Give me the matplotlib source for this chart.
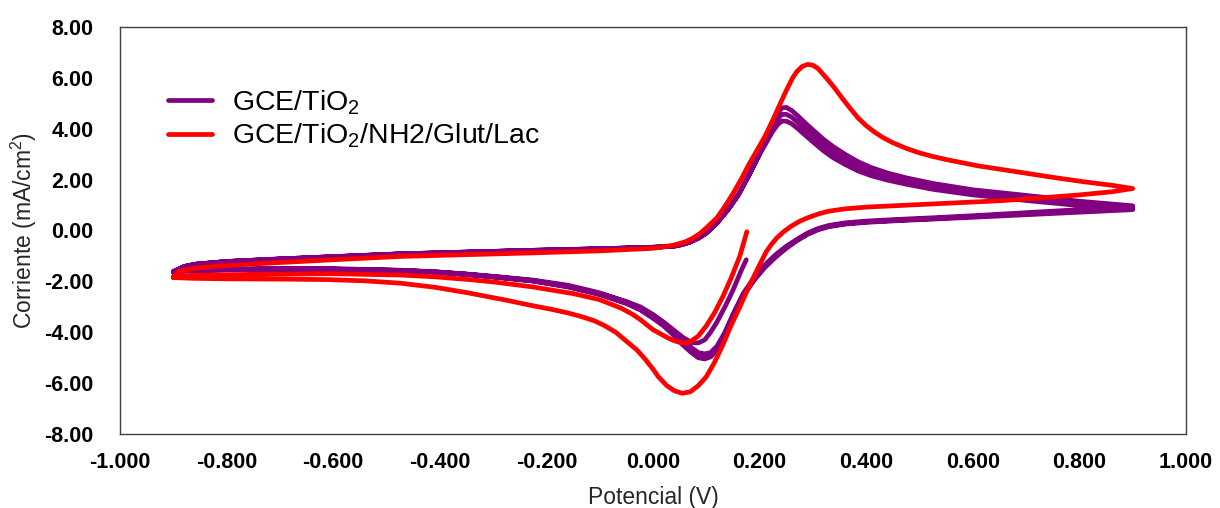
import numpy as np
import matplotlib
matplotlib.use("Agg")
import matplotlib.pyplot as plt
from matplotlib.ticker import FuncFormatter

plt.rcParams['font.family'] = ['Liberation Sans', 'DejaVu Sans']
plt.rcParams['mathtext.fontset'] = 'custom'
plt.rcParams['mathtext.rm'] = 'Liberation Sans'
plt.rcParams['mathtext.it'] = 'Liberation Sans:italic'
plt.rcParams['mathtext.bf'] = 'Liberation Sans:bold'

# ---------------- data (potential in V, current density in mA/cm2) ----------------
series_labels = ["GCE/TiO$_2$", "GCE/TiO$_2$/NH2/Glut/Lac"]
series_colors = ["#800080", "#FF0000"]

x_ticks = [-1.0, -0.8, -0.6, -0.4, -0.2, 0.0, 0.2, 0.4, 0.6, 0.8, 1.0]
y_ticks = [-8, -6, -4, -2, 0, 2, 4, 6, 8]

# --- GCE/TiO2 (purple) ---
# first cathodic sweep from the starting potential
tio2_first_E = [0.175, 0.165, 0.150, 0.135, 0.120, 0.108, 0.097, 0.085, 0.072, 0.056, 0.038, 0.020,
                0.000, -0.024, -0.050, -0.100, -0.160, -0.225, -0.290, -0.350, -0.410, -0.475,
                -0.600, -0.737, -0.863, -0.900]
tio2_first_I = [-1.15, -1.60, -2.35, -3.00, -3.60, -4.00, -4.30, -4.42, -4.40, -4.20, -3.90, -3.60,
                -3.30, -3.00, -2.80, -2.45, -2.15, -1.95, -1.82, -1.71, -1.62, -1.56,
                -1.50, -1.50, -1.55, -1.60]

# anodic sweeps (-0.9 -> 0.9), three cycles
tio2_an_E = [-0.900, -0.880, -0.860, -0.800, -0.700, -0.600, -0.475, -0.350, -0.225, -0.100, 0.000,
             0.038, 0.055, 0.070, 0.085, 0.100, 0.120, 0.140, 0.160, 0.178, 0.196, 0.211, 0.224,
             0.234, 0.242, 0.250, 0.260, 0.272, 0.287, 0.303, 0.320, 0.338, 0.360, 0.385, 0.410,
             0.440, 0.475, 0.525, 0.600, 0.700, 0.800, 0.900]
tio2_an_base = [-1.62, -1.42, -1.33, -1.22, -1.12, -1.03, -0.92, -0.85, -0.78, -0.72, -0.66,
                -0.62, -0.55, -0.45, -0.30, -0.10, 0.30, 0.80, 1.40, 2.10, 2.85]
tio2_an1_I = tio2_an_base + [3.60, 4.20, 4.62, 4.82, 4.84, 4.72, 4.50, 4.20, 3.90, 3.58, 3.30,
                             3.00, 2.70, 2.47, 2.26, 2.07, 1.85, 1.60, 1.38, 1.15, 0.97]
tio2_an2_I = tio2_an_base + [3.50, 4.05, 4.40, 4.56, 4.57, 4.46, 4.25, 3.96, 3.66, 3.35, 3.08,
                             2.80, 2.52, 2.31, 2.12, 1.95, 1.74, 1.50, 1.28, 1.06, 0.90]
tio2_an3_I = tio2_an_base + [3.40, 3.88, 4.17, 4.30, 4.30, 4.20, 4.00, 3.72, 3.43, 3.13, 2.86,
                             2.60, 2.34, 2.15, 1.98, 1.82, 1.62, 1.40, 1.18, 0.98, 0.82]

# cathodic sweeps (0.9 -> -0.9), three cycles
tio2_ca_E = [0.900, 0.800, 0.700, 0.600, 0.525, 0.463, 0.400, 0.360, 0.330, 0.310, 0.290, 0.270,
             0.250, 0.230, 0.210, 0.190, 0.170, 0.150, 0.135, 0.120, 0.108, 0.097, 0.085, 0.072,
             0.056, 0.038, 0.020, 0.000, -0.024, -0.050, -0.100, -0.160, -0.225, -0.290, -0.350,
             -0.410, -0.475, -0.600, -0.737, -0.863, -0.900]
tio2_ca1_I = [0.97, 0.82, 0.70, 0.58, 0.50, 0.44, 0.37, 0.30, 0.20, 0.08, -0.10, -0.35,
              -0.62, -0.95, -1.35, -1.85, -2.45, -3.30, -4.00, -4.55, -4.80, -4.85, -4.80, -4.60,
              -4.30, -3.95, -3.65, -3.35, -3.05, -2.80, -2.48, -2.18, -1.97, -1.83, -1.72,
              -1.63, -1.57, -1.52, -1.52, -1.56, -1.62]
tio2_ca2_I = [0.90, 0.77, 0.66, 0.55, 0.47, 0.41, 0.34, 0.27, 0.17, 0.05, -0.13, -0.38,
              -0.66, -1.00, -1.40, -1.90, -2.50, -3.35, -4.05, -4.65, -4.92, -5.00, -4.95, -4.75,
              -4.45, -4.05, -3.72, -3.42, -3.10, -2.85, -2.50, -2.20, -1.98, -1.84, -1.72,
              -1.63, -1.57, -1.52, -1.52, -1.56, -1.62]
tio2_ca3_I = [0.82, 0.72, 0.62, 0.52, 0.45, 0.39, 0.32, 0.25, 0.15, 0.03, -0.15, -0.40,
              -0.70, -1.05, -1.45, -1.95, -2.55, -3.40, -4.10, -4.70, -4.97, -5.05, -5.00, -4.80,
              -4.50, -4.10, -3.75, -3.45, -3.12, -2.87, -2.52, -2.22, -1.99, -1.85, -1.73,
              -1.64, -1.58, -1.53, -1.53, -1.57, -1.63]

# --- GCE/TiO2/NH2/Glut/Lac (red) ---
lac_first_E = [0.176, 0.163, 0.147, 0.131, 0.115, 0.100, 0.085, 0.070, 0.060, 0.050, 0.038, 0.026,
               0.000, -0.024, -0.038, -0.060, -0.100, -0.150, -0.225, -0.300, -0.350, -0.410,
               -0.475, -0.600, -0.737, -0.863, -0.900]
lac_first_I = [-0.05, -1.00, -1.85, -2.60, -3.25, -3.75, -4.15, -4.37, -4.42, -4.40, -4.32, -4.20,
               -3.90, -3.50, -3.30, -3.05, -2.72, -2.48, -2.22, -2.02, -1.92, -1.82,
               -1.75, -1.70, -1.72, -1.76, -1.80]

lac_an_E = [-0.900, -0.890, -0.875, -0.850, -0.800, -0.737, -0.600, -0.475, -0.350, -0.225, -0.100,
            0.000, 0.038, 0.060, 0.075, 0.088, 0.100, 0.120, 0.135, 0.150, 0.165, 0.180, 0.195,
            0.210, 0.225, 0.240, 0.250, 0.262, 0.270, 0.280, 0.290, 0.300, 0.310, 0.320, 0.330,
            0.340, 0.355, 0.370, 0.385, 0.400, 0.415, 0.430, 0.450, 0.475, 0.500, 0.525, 0.550,
            0.576, 0.610, 0.651, 0.700, 0.750, 0.807, 0.860, 0.900]
lac_an_I = [-1.85, -1.62, -1.54, -1.46, -1.38, -1.30, -1.15, -1.02, -0.95, -0.88, -0.80,
            -0.70, -0.58, -0.45, -0.30, -0.12, 0.10, 0.50, 0.95, 1.45, 2.00, 2.60, 3.15,
            3.70, 4.35, 5.05, 5.50, 6.00, 6.25, 6.45, 6.53, 6.50, 6.36, 6.12, 5.88,
            5.62, 5.20, 4.80, 4.42, 4.12, 3.88, 3.67, 3.45, 3.23, 3.05, 2.91, 2.79,
            2.68, 2.54, 2.41, 2.25, 2.09, 1.92, 1.78, 1.65]

lac_ca_E = [0.900, 0.860, 0.800, 0.720, 0.651, 0.580, 0.525, 0.460, 0.400, 0.360, 0.330, 0.310,
            0.290, 0.275, 0.260, 0.245, 0.232, 0.222, 0.212, 0.200, 0.180, 0.163, 0.145, 0.131,
            0.115, 0.100, 0.085, 0.070, 0.055, 0.040, 0.026, 0.010, 0.000, -0.015, -0.030,
            -0.050, -0.070, -0.090, -0.110, -0.135, -0.160, -0.190, -0.225, -0.280, -0.350,
            -0.410, -0.475, -0.540, -0.610, -0.700, -0.800, -0.863, -0.900]
lac_ca_I = [1.65, 1.52, 1.40, 1.27, 1.17, 1.10, 1.05, 0.98, 0.92, 0.85, 0.76, 0.65,
            0.50, 0.36, 0.18, -0.05, -0.30, -0.55, -0.85, -1.35, -2.20, -3.00, -3.80, -4.50,
            -5.20, -5.75, -6.10, -6.34, -6.40, -6.30, -6.10, -5.75, -5.45, -5.05, -4.70,
            -4.35, -4.00, -3.75, -3.55, -3.38, -3.24, -3.10, -2.96, -2.72, -2.44,
            -2.23, -2.07, -1.98, -1.93, -1.91, -1.90, -1.88, -1.85]

# ---------------- plotting ----------------
fig = plt.figure(figsize=(12.2, 5.08), dpi=100)
ax = fig.add_axes([120 / 1220, 1 - 434 / 508, 1066 / 1220, 407 / 508])

tio2_E = (tio2_first_E + tio2_an_E + tio2_ca_E + tio2_an_E + tio2_ca_E + tio2_an_E + tio2_ca_E)
tio2_I = (tio2_first_I + tio2_an1_I + tio2_ca1_I + tio2_an2_I + tio2_ca2_I + tio2_an3_I + tio2_ca3_I)
lac_E = lac_first_E + lac_an_E + lac_ca_E
lac_I = lac_first_I + lac_an_I + lac_ca_I

lw = 3.4
ax.plot(tio2_E, tio2_I, color=series_colors[0], lw=lw, solid_joinstyle='round',
        solid_capstyle='round', label=series_labels[0], zorder=2)
ax.plot(lac_E, lac_I, color=series_colors[1], lw=lw, solid_joinstyle='round',
        solid_capstyle='round', label=series_labels[1], zorder=3)

ax.set_xlim(-1.0, 1.0)
ax.set_ylim(-8, 8)
ax.set_xticks(x_ticks)
ax.set_yticks(y_ticks)


def fmt_x(v, pos):
    v = 0.0 if abs(v) < 1e-9 else v
    return f"{v:.3f}"


def fmt_y(v, pos):
    v = 0.0 if abs(v) < 1e-9 else v
    return f"{v:.2f}"


ax.xaxis.set_major_formatter(FuncFormatter(fmt_x))
ax.yaxis.set_major_formatter(FuncFormatter(fmt_y))
ax.tick_params(axis='both', length=0, labelsize=15.5, colors='black')
ax.tick_params(axis='y', pad=19)
ax.tick_params(axis='x', pad=13)
for lab in ax.get_xticklabels() + ax.get_yticklabels():
    lab.set_fontweight('bold')

for s in ax.spines.values():
    s.set_color('#404040')
    s.set_linewidth(1.0)

ax.set_xlabel("Potencial (V)", fontsize=16.5, labelpad=9, color='#262626')
ax.set_ylabel("Corriente (mA/cm$^2$)", fontsize=16.5, labelpad=4, color='#262626')

ax.legend(loc='upper left', bbox_to_anchor=(0.045, 0.85), frameon=False, fontsize=20.5,
          handlelength=1.55, handletextpad=0.70, labelspacing=0.18, borderpad=0, borderaxespad=0)

fig.savefig("out.png", dpi=100)
